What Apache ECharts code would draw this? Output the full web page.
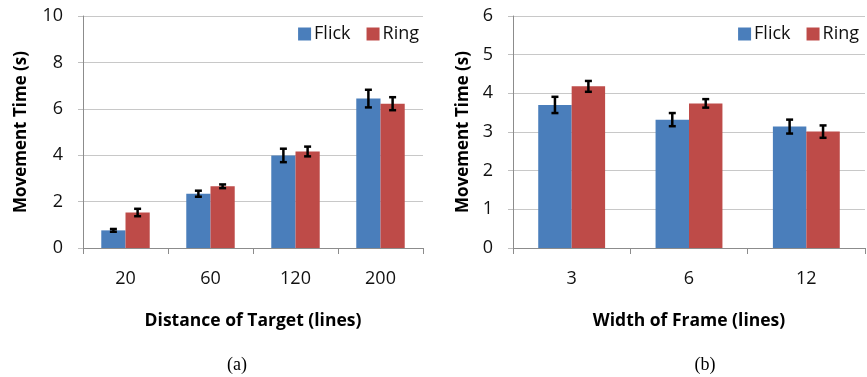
<!DOCTYPE html>
<html><head><meta charset="utf-8">
<script src="https://cdn.jsdelivr.net/npm/echarts@6/dist/echarts.min.js"></script>
<style>html,body{margin:0;padding:0;background:#fff}#c{width:867px;height:377px}</style>
</head><body><div id="c"></div>
<script>
var seriesNames = ['Flick', 'Ring'];
// Panel (a)
var distCats = ['20', '60', '120', '200'];
var distFlick = [0.76, 2.34, 3.99, 6.44];
var distRing = [1.53, 2.66, 4.16, 6.22];
var distFlickErr = [0.06, 0.13, 0.29, 0.38];
var distRingErr = [0.16, 0.08, 0.21, 0.28];
// Panel (b)
var widthCats = ['3', '6', '12'];
var widthFlick = [3.70, 3.32, 3.14];
var widthRing = [4.18, 3.74, 3.01];
var widthFlickErr = [0.21, 0.17, 0.18];
var widthRingErr = [0.14, 0.11, 0.16];

var yTicksA = [0, 2, 4, 6, 8, 10];
var yTicksB = [0, 1, 2, 3, 4, 5, 6];

var BLUE = '#4A7EBB', RED = '#BE4B48';
var GAP = 0.43;
var FONT = '"Open Sans", sans-serif';

function errData(vals, errs) {
  return vals.map(function (v, i) { return [i, v - errs[i], v + errs[i]]; });
}
function errRender(sign) {
  return function (params, api) {
    var x = api.value(0);
    var lo = api.coord([x, api.value(1)]);
    var hi = api.coord([x, api.value(2)]);
    var band = api.size([1, 0])[0];
    var bw = band * (1 - GAP) / 2;
    var cx = lo[0] + sign * bw / 2;
    var c = 3.5;
    var st = { stroke: '#000', lineWidth: 2.5 };
    return { type: 'group', children: [
      { type: 'line', shape: { x1: cx, y1: lo[1], x2: cx, y2: hi[1] }, style: st },
      { type: 'line', shape: { x1: cx - c, y1: lo[1], x2: cx + c, y2: lo[1] }, style: st },
      { type: 'line', shape: { x1: cx - c, y1: hi[1], x2: cx + c, y2: hi[1] }, style: st }
    ] };
  };
}
function xAxis(idx, cats, name) {
  return {
    type: 'category', gridIndex: idx, data: cats,
    name: name, nameLocation: 'middle', nameGap: 64,
    nameTextStyle: { fontFamily: FONT, fontWeight: 'bold', fontSize: 17.5, color: '#000' },
    axisLine: { lineStyle: { color: '#8c8c8c', width: 1 } },
    axisTick: { show: true, length: 6, lineStyle: { color: '#8c8c8c' } },
    axisLabel: { fontFamily: FONT, fontSize: 18, color: '#111', margin: 22 }
  };
}
function yAxis(idx, max, interval, gap) {
  return {
    type: 'value', gridIndex: idx, min: 0, max: max, interval: interval,
    name: 'Movement Time (s)', nameLocation: 'middle', nameGap: gap, nameRotate: 90,
    nameTextStyle: { fontFamily: FONT, fontWeight: 'bold', fontSize: 17, color: '#000' },
    axisLine: { show: true, lineStyle: { color: '#8c8c8c' } },
    axisTick: { show: true, length: 5, lineStyle: { color: '#bfbfbf' } },
    splitLine: { lineStyle: { color: '#c8c8c8' } },
    axisLabel: { fontFamily: FONT, fontSize: 18, color: '#111', margin: 20 }
  };
}
function legend(right) {
  return {
    data: seriesNames, right: right, top: 20, icon: 'rect', itemWidth: 13, itemHeight: 13,
    itemGap: 16, textStyle: { fontFamily: FONT, fontSize: 18, color: '#111', padding: [0, 0, 0, -2] }
  };
}
var chart = echarts.init(document.getElementById('c'));
chart.setOption({
  animation: false,
  grid: [
    { left: 83, right: 444, top: 16, bottom: 129 },
    { left: 513, right: 2, top: 16, bottom: 129 }
  ],
  legend: [legend(443), legend(3)],
  xAxis: [xAxis(0, distCats, 'Distance of Target (lines)'), xAxis(1, widthCats, 'Width of Frame (lines)')],
  yAxis: [yAxis(0, 10, 2, 53), yAxis(1, 6, 1, 41)],
  series: [
    { name: 'Flick', type: 'bar', xAxisIndex: 0, yAxisIndex: 0, data: distFlick, itemStyle: { color: BLUE }, barGap: '0%', barCategoryGap: '43%' },
    { name: 'Ring', type: 'bar', xAxisIndex: 0, yAxisIndex: 0, data: distRing, itemStyle: { color: RED }, barGap: '0%', barCategoryGap: '43%' },
    { name: 'Flick', type: 'bar', xAxisIndex: 1, yAxisIndex: 1, data: widthFlick, itemStyle: { color: BLUE }, barGap: '0%', barCategoryGap: '43%' },
    { name: 'Ring', type: 'bar', xAxisIndex: 1, yAxisIndex: 1, data: widthRing, itemStyle: { color: RED }, barGap: '0%', barCategoryGap: '43%' },
    { type: 'custom', xAxisIndex: 0, yAxisIndex: 0, renderItem: errRender(-1), data: errData(distFlick, distFlickErr), z: 5 },
    { type: 'custom', xAxisIndex: 0, yAxisIndex: 0, renderItem: errRender(1), data: errData(distRing, distRingErr), z: 5 },
    { type: 'custom', xAxisIndex: 1, yAxisIndex: 1, renderItem: errRender(-1), data: errData(widthFlick, widthFlickErr), z: 5 },
    { type: 'custom', xAxisIndex: 1, yAxisIndex: 1, renderItem: errRender(1), data: errData(widthRing, widthRingErr), z: 5 }
  ],
  graphic: [
    { type: 'text', x: 237, y: 365, style: { text: '(a)', font: '18px "Liberation Serif", serif', fill: '#000', align: 'center', verticalAlign: 'middle' } },
    { type: 'text', x: 705, y: 365, style: { text: '(b)', font: '18px "Liberation Serif", serif', fill: '#000', align: 'center', verticalAlign: 'middle' } }
  ]
});
</script></body></html>
